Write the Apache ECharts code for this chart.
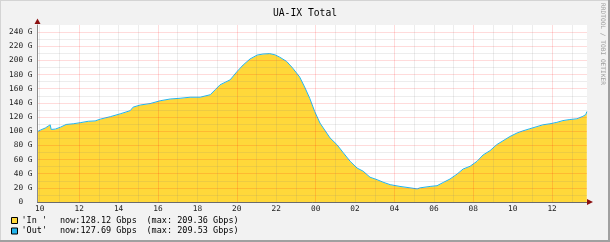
<!DOCTYPE html>
<html><head><meta charset="utf-8">
<script src="https://cdn.jsdelivr.net/npm/echarts@6/dist/echarts.min.js"></script>
<style>html,body{margin:0;padding:0;background:#f2f2f2}#c{width:610px;height:242px}</style>
</head><body><div id="c"></div><script>
// hours since midnight of day 1 (values > 24 are the next day)
const hours = [9.89,10.03,10.28,10.53,10.58,10.79,11.04,11.34,11.70,12.05,12.46,12.81,13.07,13.58,14.08,14.59,14.74,15.10,15.60,16.11,16.62,17.12,17.63,18.14,18.65,18.90,19.15,19.66,20.02,20.32,20.67,21.03,21.33,21.67,21.93,22.18,22.53,22.84,23.19,23.44,23.70,23.95,24.22,24.73,25.08,25.39,25.75,26.10,26.41,26.76,27.12,27.42,27.78,28.28,28.79,29.15,29.30,29.81,30.16,30.47,30.82,31.18,31.48,31.84,32.19,32.50,32.85,33.19,33.51,33.86,34.22,34.52,34.87,35.23,35.53,35.89,36.24,36.55,36.90,37.26,37.56,37.71,37.76];
const inG  = [99,101,104,108.5,102,102.5,105,109,110,111.5,113.5,114,116.5,120,124,128.5,133.5,136.5,138.5,142.5,145,146,147.5,147.5,151,158,165,172,184,193,201.5,207,208.5,209.36,207.5,204,198,188.5,176,162,146,127.5,111,90,80.5,69.5,57,47.5,43,34.5,31,27.5,24,21.5,19.5,18,19.5,21.5,22.5,27,32,39,46,50,57,66,72,80.5,86,92,97,100,103,106,108.5,110,112,114.5,116,117,120.5,123,128.12];
const outG = [99.5,101.5,104.5,109,102.5,103,105.5,109.5,110.5,112,114,114.5,117,120.5,124.5,129,134,137,139,143,145.5,146.5,148,148,151.5,158.5,165.5,172.5,184.5,193.5,202,207.5,209,209.53,208,204.5,198.5,189,176.5,162.5,146.5,128,111.5,90.5,81,70,57.5,48,43.5,35,31.5,28,24.5,22,20,18.5,20,22,23,27.5,32.5,39.5,46.5,50.5,57.5,66.5,72.5,81,86.5,92.5,97.5,100.5,103.5,106.5,109,110.5,112.5,115,116.5,117.5,121,123.5,127.69];
const xLabelHours = [10,12,14,16,18,20,22,24,26,28,30,32,34,36];
const xTickHours = [10,11,12,13,14,15,16,17,18,19,20,21,22,23,24,25,26,27,28,29,30,31,32,33,34,35,36,37];
const seriesNames = ["'In '", "'Out'"];
const nowTexts = ['now:128.12 Gbps', 'now:127.69 Gbps'];
const maxTexts = ['(max: 209.36 Gbps)', '(max: 209.53 Gbps)'];
const titleText = 'UA-IX Total';
const sideText = 'RRDTOOL / TOBI OETIKER';

const MONO = '"DejaVu Sans Mono", "Liberation Mono", monospace';
const YELLOW = '#FFD83A';
const CYAN = '#22B4EC';
const GRIDC = 'rgba(130,130,130,0.14)';
const MGRIDC = 'rgba(255,0,0,0.14)';

const chart = echarts.init(document.getElementById('c'), null, {renderer: 'canvas'});

const legendEls = [];
[YELLOW, CYAN].forEach((col, i) => {
  const cy = 220.5 + i * 10.5;
  legendEls.push({type: 'rect', shape: {x: 11.5, y: cy - 3, width: 6, height: 6},
    style: {fill: col, stroke: '#000', lineWidth: 1}});
  legendEls.push({type: 'text', x: 21.5, y: cy, style: {text: seriesNames[i], font: '8.5px ' + MONO, fill: '#000', textVerticalAlign: 'middle'}});
  legendEls.push({type: 'text', x: 60, y: cy, style: {text: nowTexts[i], font: '8.5px ' + MONO, fill: '#000', textVerticalAlign: 'middle'}});
  legendEls.push({type: 'text', x: 146.5, y: cy, style: {text: maxTexts[i], font: '8.5px ' + MONO, fill: '#000', textVerticalAlign: 'middle'}});
});

chart.setOption({
  animation: false,
  backgroundColor: '#f2f2f2',
  title: {text: titleText, left: 'center', top: 3,
    textStyle: {fontFamily: MONO, fontSize: 9.7, fontWeight: 'normal', color: '#000'}},
  grid: {left: 37.5, right: 23, top: 25, bottom: 40, show: true, backgroundColor: '#fff', borderWidth: 0},
  xAxis: {
    type: 'value', min: 9.886, max: 37.77, z: 5,
    axisLine: {show: true, onZero: false, lineStyle: {color: '#6b6b6b', width: 1}},
    axisTick: {show: false, customValues: xTickHours},
    axisLabel: {customValues: xLabelHours, margin: 3,
      fontFamily: MONO, fontSize: 7.8, color: '#222',
      formatter: v => String(Math.round(v) % 24).padStart(2, '0')},
    splitLine: {show: true, lineStyle: {color: [GRIDC, GRIDC, MGRIDC, GRIDC], width: 1}}
  },
  yAxis: {
    type: 'value', min: 0, max: 250, interval: 10, z: 5,
    axisLine: {show: true, lineStyle: {color: '#8a8a8a', width: 1}},
    axisTick: {show: false},
    axisLabel: {margin: 5, fontFamily: MONO, fontSize: 7.8, color: '#222',
      formatter: v => (v % 20 !== 0 || v > 240) ? '' : (v === 0 ? '0  ' : v + ' G')},
    splitLine: {show: true, showMaxLine: false, lineStyle: {color: [MGRIDC, GRIDC], width: 1}}
  },
  series: [
    {name: seriesNames[0], type: 'line', data: hours.map((h, i) => [h, inG[i]]),
      showSymbol: false, lineStyle: {width: 0, color: YELLOW}, areaStyle: {color: YELLOW, opacity: 1}, z: 2},
    {name: seriesNames[1], type: 'line', data: hours.map((h, i) => [h, outG[i]]),
      showSymbol: false, lineStyle: {width: 1, color: CYAN}, z: 3}
  ],
  graphic: [
    {type: 'polygon', shape: {points: [[34.5, 24], [40.5, 24], [37.5, 18.5]]}, style: {fill: '#8b1010'}, z: 10},
    {type: 'polygon', shape: {points: [[587, 199], [587, 205], [593, 202]]}, style: {fill: '#8b1010'}, z: 10},
    {type: 'text', x: 603, y: 3, rotation: -Math.PI / 2,
      style: {text: sideText, font: '6.2px ' + MONO, fill: '#a0a0a0', textVerticalAlign: 'middle'}},
    {type: 'line', shape: {x1: 0, y1: 0.5, x2: 610, y2: 0.5}, style: {stroke: '#d4d4d4', lineWidth: 1}},
    {type: 'line', shape: {x1: 0.5, y1: 0, x2: 0.5, y2: 242}, style: {stroke: '#d4d4d4', lineWidth: 1}},
    {type: 'line', shape: {x1: 0, y1: 241, x2: 610, y2: 241}, style: {stroke: '#a0a0a0', lineWidth: 2}},
    {type: 'line', shape: {x1: 609, y1: 0, x2: 609, y2: 242}, style: {stroke: '#a0a0a0', lineWidth: 2}},
    ...legendEls
  ]
});
</script></body></html>
